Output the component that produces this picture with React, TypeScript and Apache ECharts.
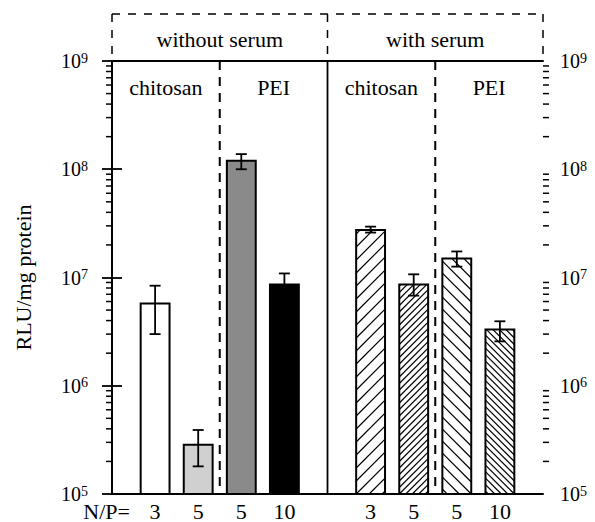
import React, { useEffect, useRef } from 'react';
import * as echarts from 'echarts';

// ---- data ----
const groupLabels = ['without serum', 'with serum'];
const carrierLabels = ['chitosan', 'PEI', 'chitosan', 'PEI'];
const npRatios = ['3', '5', '5', '10', '3', '5', '5', '10'];
const rluMean = [5.75e6, 2.85e5, 1.2e8, 8.6e6, 2.75e7, 8.6e6, 1.5e7, 3.3e6];
const rluUpper = [8.4e6, 3.9e5, 1.38e8, 1.09e7, 2.95e7, 1.07e7, 1.74e7, 3.94e6];
const rluLower = [3.0e6, 1.8e5, 1.0e8, 6.8e6, 2.6e7, 6.8e6, 1.26e7, 2.57e6];
const yMinExp = 5;
const yMaxExp = 9;
const npAxisLabel = 'N/P=';
const yAxisTitle = 'RLU/mg protein';

// ---- styles ----
const FONT = '"Liberation Serif", "Times New Roman", serif';
const fills = [
  { kind: 'solid', color: '#ffffff' },
  { kind: 'solid', color: '#d0d0d0' },
  { kind: 'solid', color: '#8a8a8a' },
  { kind: 'solid', color: '#000000' },
  { kind: 'hatch', dir: 1, step: 13 },
  { kind: 'hatch', dir: 1, step: 6.5 },
  { kind: 'hatch', dir: -1, step: 12 },
  { kind: 'hatch', dir: -1, step: 6.5 },
];

const slotOf = (i: number) => (i < 4 ? i + 1 : i + 2);
const xMax = 10;
const yMin = Math.pow(10, yMinExp);
const yMax = Math.pow(10, yMaxExp);

function hatchLines(x0: number, y0: number, x1: number, y1: number, dir: number, step: number) {
  const out: any[] = [];
  const ls = { stroke: '#000', lineWidth: 1.2 };
  if (dir === 1) {
    const c0 = x0 + y1;
    const kStart = Math.ceil((x0 + y0 - c0) / step);
    const kEnd = Math.floor((x1 + y1 - c0) / step);
    for (let k = kStart; k <= kEnd; k++) {
      const c = c0 + k * step;
      const xa = Math.max(x0, c - y1);
      const xb = Math.min(x1, c - y0);
      if (xb - xa > 0.5) {
        out.push({ type: 'line', shape: { x1: xa, y1: c - xa, x2: xb, y2: c - xb }, style: ls });
      }
    }
  } else {
    const c0 = y1 - x1;
    const kStart = Math.ceil((y0 - x1 - c0) / step);
    const kEnd = Math.floor((y1 - x0 - c0) / step);
    for (let k = kStart; k <= kEnd; k++) {
      const c = c0 + k * step;
      const xa = Math.max(x0, y0 - c);
      const xb = Math.min(x1, y1 - c);
      if (xb - xa > 0.5) {
        out.push({ type: 'line', shape: { x1: xa, y1: c + xa, x2: xb, y2: c + xb }, style: ls });
      }
    }
  }
  return out;
}

const minorTickValues: number[] = [];
for (let e = yMinExp; e < yMaxExp; e++) {
  for (let m = 2; m <= 9; m++) minorTickValues.push(m * Math.pow(10, e));
}

const xLabelMap: Record<number, string> = {};
npRatios.forEach((r, i) => (xLabelMap[slotOf(i)] = r));

const yLabelFormatter = (v: number) => `{b|10}{s|${Math.round(Math.log10(v))}}`;
const yRich = {
  b: { fontSize: 20, fontFamily: FONT, color: '#000' },
  s: { fontSize: 14, fontFamily: FONT, color: '#000', verticalAlign: 'top' },
};

export default function App() {
  const ref = useRef<HTMLDivElement>(null);

  useEffect(() => {
    document.body.style.margin = '0';
    const chart = echarts.init(ref.current!, null, { renderer: 'svg' });

    const option: any = {
      animation: false,
      backgroundColor: '#ffffff',
      grid: { left: 112, right: 52, top: 61, bottom: 27, containLabel: false },
      xAxis: [
        {
          type: 'value',
          min: 0,
          max: xMax,
          interval: 1,
          position: 'bottom',
          axisLine: { show: true, lineStyle: { color: '#000', width: 2 } },
          axisTick: { show: false },
          splitLine: { show: false },
          axisLabel: {
            margin: 6,
            fontSize: 22,
            fontFamily: FONT,
            color: '#000',
            showMinLabel: true,
            showMaxLabel: true,
            formatter: (v: number) => xLabelMap[Math.round(v)] ?? '',
          },
        },
        {
          type: 'value',
          min: 0,
          max: xMax,
          position: 'top',
          axisLine: { show: true, lineStyle: { color: '#000', width: 2 } },
          axisTick: { show: false },
          axisLabel: { show: false },
          splitLine: { show: false },
        },
      ],
      yAxis: [
        {
          type: 'log',
          logBase: 10,
          min: yMin,
          max: yMax,
          position: 'left',
          axisLine: { show: true, lineStyle: { color: '#000', width: 2 } },
          axisTick: { show: true, length: 10, lineStyle: { color: '#000', width: 1.8 } },
          splitLine: { show: false },
          axisLabel: { margin: 24, formatter: yLabelFormatter, rich: yRich },
        },
        {
          type: 'log',
          logBase: 10,
          min: yMin,
          max: yMax,
          position: 'right',
          axisLine: { show: true, lineStyle: { color: '#000', width: 2 } },
          axisTick: { show: true, length: 10, lineStyle: { color: '#000', width: 1.8 } },
          splitLine: { show: false },
          axisLabel: { margin: 17, formatter: yLabelFormatter, rich: yRich },
        },
      ],
      series: [
        {
          type: 'custom',
          name: 'minor ticks',
          xAxisIndex: 0,
          yAxisIndex: 0,
          clip: false,
          silent: true,
          data: minorTickValues.map((v) => [0, v]),
          renderItem: (params: any, api: any) => {
            const v = api.value(1);
            const l = api.coord([0, v]);
            const r = api.coord([xMax, v]);
            const st = { stroke: '#000', lineWidth: 1.5 };
            return {
              type: 'group',
              children: [
                { type: 'line', shape: { x1: l[0] - 6, y1: l[1], x2: l[0], y2: l[1] }, style: st },
                { type: 'line', shape: { x1: r[0], y1: r[1], x2: r[0] + 6, y2: r[1] }, style: st },
              ],
            };
          },
        },
        {
          type: 'custom',
          name: 'RLU',
          xAxisIndex: 0,
          yAxisIndex: 0,
          clip: false,
          data: rluMean.map((v, i) => [slotOf(i), v, rluLower[i], rluUpper[i], i]),
          encode: { x: 0, y: 1 },
          renderItem: (params: any, api: any) => {
            const xi = api.value(0);
            const v = api.value(1);
            const lo = api.value(2);
            const hi = api.value(3);
            const idx = api.value(4);
            const top = api.coord([xi, v]);
            const base = api.coord([xi, yMin]);
            const half = (api.coord([xi + 1, v])[0] - top[0]) * 0.335;
            const x0 = top[0] - half;
            const x1 = top[0] + half;
            const y0 = top[1];
            const y1 = base[1];
            const f: any = fills[idx];
            const children: any[] = [];
            const fillColor = f.kind === 'solid' ? f.color : '#ffffff';
            children.push({
              type: 'rect',
              shape: { x: x0, y: y0, width: x1 - x0, height: y1 - y0 },
              style: { fill: fillColor, stroke: 'none' },
            });
            if (f.kind === 'hatch') {
              children.push(...hatchLines(x0, y0, x1, y1, f.dir, f.step));
            }
            children.push({
              type: 'rect',
              shape: { x: x0, y: y0, width: x1 - x0, height: y1 - y0 },
              style: { fill: 'none', stroke: '#000', lineWidth: 2 },
            });
            const pHi = api.coord([xi, hi]);
            const pLo = api.coord([xi, lo]);
            const cap = 5.5;
            const es = { stroke: '#000', lineWidth: 1.8 };
            children.push(
              { type: 'line', shape: { x1: pHi[0], y1: pHi[1], x2: pLo[0], y2: pLo[1] }, style: es },
              { type: 'line', shape: { x1: pHi[0] - cap, y1: pHi[1], x2: pHi[0] + cap, y2: pHi[1] }, style: es },
              { type: 'line', shape: { x1: pLo[0] - cap, y1: pLo[1], x2: pLo[0] + cap, y2: pLo[1] }, style: es }
            );
            return { type: 'group', children };
          },
        },
      ],
    };
    chart.setOption(option);

    const px = (x: number, y: number) => chart.convertToPixel({ gridIndex: 0 }, [x, y]) as number[];
    const topY = 14;
    const pTopL = px(0, yMax);
    const pTopM = px(xMax / 2, yMax);
    const pTopR = px(xMax, yMax);
    const pBotM = px(xMax / 2, yMin);
    const dashBox = { stroke: '#000', lineWidth: 1.5, lineDash: [8, 8] };
    const textStyle = (text: string, size: number) => ({
      text,
      fill: '#000',
      fontSize: size,
      fontFamily: FONT,
      align: 'center',
      verticalAlign: 'middle',
      textAlign: 'center',
      textVerticalAlign: 'middle',
    });

    const graphics: any[] = [
      { type: 'line', shape: { x1: pTopL[0], y1: topY, x2: pTopR[0], y2: topY }, style: dashBox, silent: true },
      { type: 'line', shape: { x1: pTopL[0], y1: topY, x2: pTopL[0], y2: pTopL[1] }, style: dashBox, silent: true },
      { type: 'line', shape: { x1: pTopM[0], y1: topY, x2: pTopM[0], y2: pTopM[1] }, style: dashBox, silent: true },
      { type: 'line', shape: { x1: pTopR[0], y1: topY, x2: pTopR[0], y2: pTopR[1] }, style: dashBox, silent: true },
      {
        type: 'line',
        shape: { x1: pTopM[0], y1: pTopM[1], x2: pBotM[0], y2: pBotM[1] },
        style: { stroke: '#000', lineWidth: 1.8 },
        silent: true,
      },
    ];
    [0.25, 0.75].forEach((fr) => {
      const a = px(xMax * fr, yMax);
      const b = px(xMax * fr, yMin);
      graphics.push({
        type: 'line',
        shape: { x1: a[0], y1: a[1], x2: b[0], y2: b[1] },
        style: { stroke: '#000', lineWidth: 2, lineDash: [9, 7] },
        silent: true,
      });
    });
    groupLabels.forEach((g, i) => {
      const c = px((xMax / 2) * (i + 0.5), yMax);
      graphics.push({ type: 'text', x: c[0], y: 39, style: textStyle(g, 22), silent: true });
    });
    carrierLabels.forEach((g, i) => {
      const c = px((xMax / 4) * (i + 0.5), yMax);
      graphics.push({ type: 'text', x: c[0], y: c[1] + 26, style: textStyle(g, 22), silent: true });
    });
    const np = px(0, yMin);
    graphics.push({
      type: 'text',
      x: np[0] + 18,
      y: np[1] + 17,
      style: { ...textStyle(npAxisLabel, 22), align: 'right', textAlign: 'right' },
      silent: true,
    });
    const mid = px(0, Math.sqrt(yMin * yMax));
    graphics.push({
      type: 'text',
      x: 23,
      y: mid[1],
      rotation: Math.PI / 2,
      style: textStyle(yAxisTitle, 22),
      silent: true,
    });
    chart.setOption({ graphic: graphics });

    return () => chart.dispose();
  }, []);

  return (
    <div
      ref={ref}
      style={{ position: 'absolute', left: 0, top: 0, width: 595, height: 522, background: '#fff' }}
    />
  );
}
